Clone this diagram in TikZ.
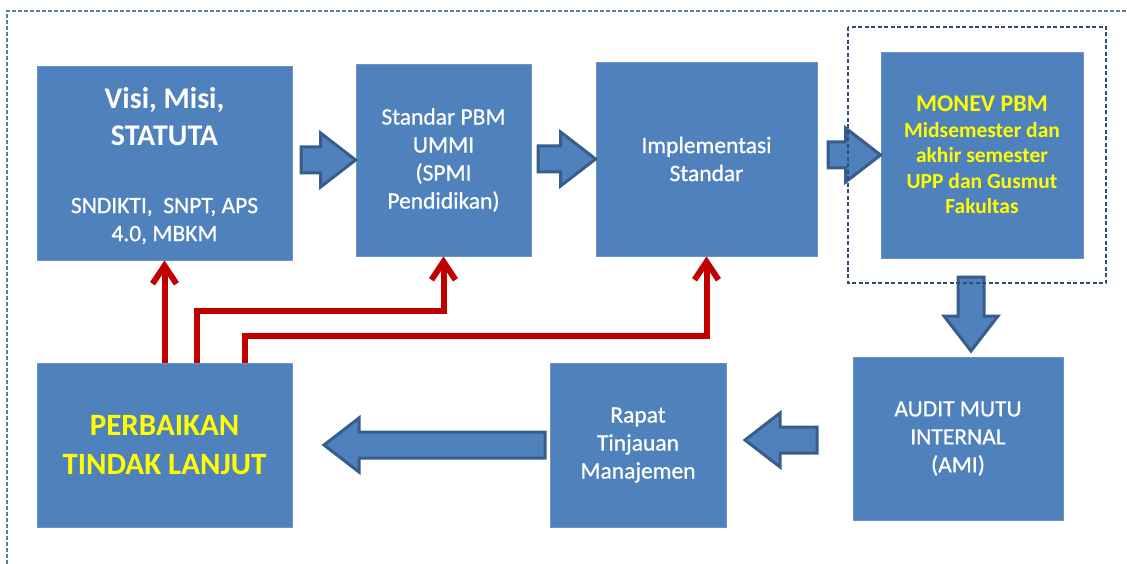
\documentclass[tikz,border=0pt]{standalone}
\usepackage{fontspec}
\setmainfont{Carlito}
\newfontfamily\isiteks{Carlito}[FakeBold=0.7]
\usetikzlibrary{calc,arrows.meta}
\definecolor{birukotak}{HTML}{4F81BD}
\definecolor{tepipanah}{HTML}{385D8A}
\definecolor{merahgaris}{HTML}{C00000}
\definecolor{kuningteks}{HTML}{FFFF00}
\definecolor{bingkailuar}{HTML}{5A7BA6}
\definecolor{bingkaimonev}{HTML}{2E4C78}
\newcommand{\leher}{13pt}
\newcommand{\sayap}{27pt}
\newcommand{\kepala}{35pt}
% block arrow from #1 (tail) to #2 (tip)
\newcommand{\blokpanah}[2]{%
  \coordinate (kb) at ($(#2)!\kepala!(#1)$);
  \draw[panah] ($(#1)!\leher!90:(#2)$) -- ($(kb)!\leher!-90:(#1)$)
    -- ($(kb)!\sayap!-90:(#1)$) -- (#2)
    -- ($(kb)!\sayap!90:(#1)$) -- ($(kb)!\leher!90:(#1)$)
    -- ($(#1)!\leher!-90:(#2)$) -- cycle;}
\tikzset{
  kotak/.style={fill=birukotak, draw=birukotak!85!white, line width=.8pt,
    inner sep=0pt, align=center, text=white, font=\isiteks\fontsize{23.5}{28}\selectfont},
  teksputih/.style={align=center, text=white, inner sep=0pt, font=\isiteks\fontsize{23.5}{28}\selectfont},
  panah/.style={fill=birukotak, draw=tepipanah, line width=3pt, line join=miter},
  merah/.style={draw=merahgaris, line width=6pt, -{Straight Barb[length=18pt,width=24pt]}},
  bingkai/.style={draw=bingkailuar, line width=1.4pt, dash pattern=on 4pt off 2pt},
  bingkaim/.style={draw=bingkaimonev, line width=1.3pt, dash pattern=on 4pt off 2.5pt}
}
\begin{document}
\begin{tikzpicture}[x=1pt, y=-1pt]
    \useasboundingbox (0,0) rectangle (1127,564);

      \node (visi) at (164.5,163) [kotak, minimum width=255pt, minimum height=194pt] {};
      \node (visijudul) at ([yshift=46.5pt]visi.center) [teksputih, font=\rmfamily\bfseries\fontsize{30}{37}\selectfont] {Visi, Misi,\\STATUTA};
      \node (visisub) at ([yshift=-58pt]visi.center) [teksputih] {SNDIKTI, \ SNPT, APS\\4.0, MBKM};
      \node (standar) at (443.5,160) [kotak, minimum width=175pt, minimum height=192pt] {Standar PBM\\UMMI\\(SPMI\\Pendidikan)};
      \node (impl) at (706.5,159) [kotak, minimum width=221pt, minimum height=194pt] {Implementasi\\Standar};
      \node (monev) at (982,155) [kotak, minimum width=202pt, minimum height=206pt, text=kuningteks,
            font=\rmfamily\bfseries\fontsize{21.5}{25.5}\selectfont]
            {{\fontsize{24}{26}\selectfont MONEV PBM}\\Midsemester dan\\akhir semester\\UPP dan Gusmut\\Fakultas};
      \node (audit) at (958,438.5) [kotak, minimum width=210pt, minimum height=163pt] {AUDIT MUTU\\INTERNAL\\(AMI)};
      \node (rapat) at (638,445) [kotak, minimum width=176pt, minimum height=164pt] {Rapat\\Tinjauan\\Manajemen};
      \node (perbaikan) at (164.5,445) [kotak, minimum width=255pt, minimum height=164pt, text=kuningteks,
            font=\rmfamily\bfseries\fontsize{31}{39}\selectfont] {PERBAIKAN\\TINDAK LANJUT};

      \coordinate (e1) at (301,160);
      \coordinate (e2) at (538,159);
      \coordinate (e3) at (828,155);
      \coordinate (e4) at (971,277);
      \coordinate (u4) at (971,351);
      \coordinate (e5) at (817,440);
      \coordinate (u5) at (745,440);
      \coordinate (e6) at (545,445);
      \coordinate (u6) at (324,445);
      \blokpanah{e1}{standar.west}
      \blokpanah{e2}{impl.west}
      \blokpanah{e3}{monev.west}
      \blokpanah{e4}{u4}
      \blokpanah{e5}{u5}
      \blokpanah{e6}{u6}

      \draw[bingkaim] (848,27) rectangle (1106,283);
      \draw[bingkai] (7,570) |- (1130,11);

      \draw[merah] (perbaikan.north) to (visi.south);
      \draw[merah] ([xshift=32pt]perbaikan.north) -- ++(0,-52) -| (standar.south);
      \draw[merah] ([xshift=80pt]perbaikan.north) -- ++(0,-27) -| (impl.south);

  \end{tikzpicture}
\end{document}
